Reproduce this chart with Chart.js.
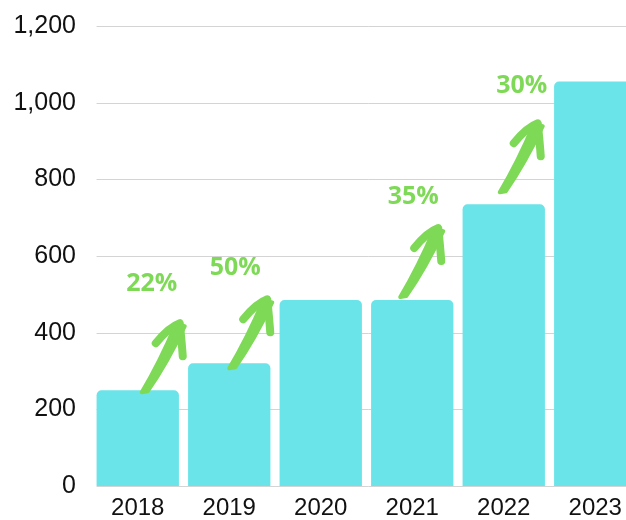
<!DOCTYPE html>
<html>
<head>
<meta charset="utf-8">
<script src="https://cdn.jsdelivr.net/npm/chart.js@4"></script>
<style>
  html, body { margin: 0; padding: 0; background: #fff; overflow: hidden; }
  #wrap { width: 641px; height: 520px; }
</style>
</head>
<body>
<div id="wrap"><canvas id="myChart" width="641" height="520"></canvas></div>
<script>
var years = ["2018", "2019", "2020", "2021", "2022", "2023"];
var sales = [250, 320, 485, 485, 735, 1055];
var yTicks = [0, 200, 400, 600, 800, 1000, 1200];

// growth badges: which bar the arrow leaves from, and the text above it
var growthFrom = [0, 1, 3, 4];
var growthText = ["22%", "50%", "35%", "30%"];

// pixel tweaks for the hand drawn arrows (tail offset from bar top, label offset from tip)
var arrowTail = [[7, 2], [3, 5], [-9, -3], [-1, -12]];
var labelShift = [[-28, -38], [-32, -30], [-25, -30], [-16, -36]];

var barColor = "#6AE4E8";
var green = "#7ED957";

// horizontal grid, starting at the left edge of the first bar
var gridLines = {
    id: "gridLines",
    beforeDatasetsDraw: function (chart) {
        var ctx = chart.ctx;
        var y = chart.scales.y;
        var first = chart.getDatasetMeta(0).data[0];
        var left = first.x - first.width / 2;
        ctx.save();
        ctx.strokeStyle = "#d4d4d4";
        ctx.lineWidth = 1;
        yTicks.forEach(function (v) {
            var py = Math.round(y.getPixelForValue(v)) + 0.5;
            ctx.beginPath();
            ctx.moveTo(left, py);
            ctx.lineTo(chart.chartArea.right, py);
            ctx.stroke();
        });
        ctx.restore();
    }
};

function drawArrow(ctx, tx, ty) {
    // tip sits up and to the right of the tail
    var px = tx + 35, py = ty - 70;
    ctx.save();
    ctx.strokeStyle = green;
    ctx.fillStyle = green;
    ctx.lineCap = "round";
    ctx.lineJoin = "round";

    // shaft, a little wider near the head
    ctx.beginPath();
    ctx.moveTo(tx - 3, ty);
    ctx.quadraticCurveTo(tx + 15, py + 40, px - 4, py + 2);
    ctx.lineTo(px + 5, py + 4);
    ctx.quadraticCurveTo(tx + 22, py + 42, tx + 3, ty - 1);
    ctx.closePath();
    ctx.fill();
    ctx.lineWidth = 4;
    ctx.stroke();

    // barbs
    ctx.lineWidth = 8;
    ctx.beginPath();
    ctx.moveTo(px - 24, py + 21);
    ctx.quadraticCurveTo(px - 11, py + 5, px, py + 1);
    ctx.quadraticCurveTo(px + 2, py + 20, px + 3, py + 34);
    ctx.stroke();
    ctx.restore();
}

var growthArrows = {
    id: "growthArrows",
    afterDatasetsDraw: function (chart) {
        var ctx = chart.ctx;
        var bars = chart.getDatasetMeta(0).data;
        growthFrom.forEach(function (idx, i) {
            var bar = bars[idx];
            var tx = bar.x + arrowTail[i][0];
            var ty = bar.y + arrowTail[i][1];
            drawArrow(ctx, tx, ty);
            ctx.save();
            ctx.fillStyle = green;
            ctx.font = "700 25px 'Open Sans'";
            ctx.textAlign = "center";
            ctx.textBaseline = "middle";
            ctx.fillText(growthText[i], tx + 35 + labelShift[i][0], ty - 70 + labelShift[i][1]);
            ctx.restore();
        });
    }
};

new Chart("myChart", {
    type: "bar",
    data: {
        labels: years,
        datasets: [{
            data: sales,
            backgroundColor: barColor,
            borderRadius: 5,
            borderSkipped: "start",
            categoryPercentage: 0.9,
            barPercentage: 1.0
        }]
    },
    options: {
        responsive: false,
        animation: false,
        layout: { autoPadding: false, padding: { top: 26, left: 0, right: 0, bottom: 0 } },
        plugins: {
            legend: { display: false },
            tooltip: { enabled: false }
        },
        scales: {
            x: {
                grid: { display: false, drawTicks: false },
                border: { display: false },
                ticks: {
                    color: "#111",
                    padding: 8,
                    font: { family: "'Liberation Sans', Arial", size: 24 }
                },
                afterFit: function (s) { s.height = 34; }
            },
            y: {
                min: 0,
                max: 1200,
                grid: { display: false, drawTicks: false },
                border: { display: false },
                ticks: {
                    stepSize: 200,
                    color: "#111",
                    padding: 16,
                    font: { family: "'Liberation Sans', Arial", size: 25 },
                    callback: function (v) { return v.toLocaleString("en-US"); }
                },
                afterFit: function (s) {
                    s.width = 92;
                    s.paddingTop = 0;
                    s.paddingBottom = 0;
                }
            }
        }
    },
    plugins: [gridLines, growthArrows]
});
</script>
</body>
</html>
